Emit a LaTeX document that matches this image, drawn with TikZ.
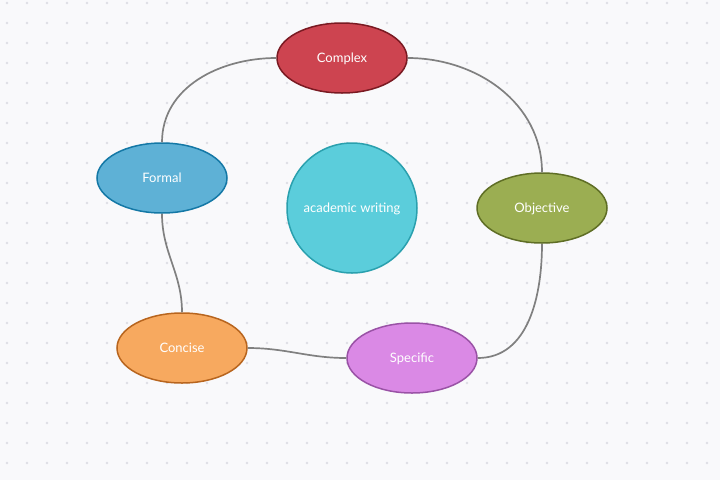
\documentclass[tikz,border=0pt]{standalone}
\usepackage{fontspec}
\setmainfont{Lato}
\usepackage{tikz}
\usetikzlibrary{shapes.geometric}

\definecolor{bgpaper}{HTML}{F9F9FB}
\definecolor{bgdot}{HTML}{DEDEE4}
\definecolor{linkgray}{HTML}{808080}
\definecolor{cxfill}{HTML}{CD4450}\definecolor{cxline}{HTML}{7A1A22}
\definecolor{fmfill}{HTML}{5EB1D6}\definecolor{fmline}{HTML}{1478A6}
\definecolor{awfill}{HTML}{5BCDDB}\definecolor{awline}{HTML}{2AA0AE}
\definecolor{obfill}{HTML}{9BAE52}\definecolor{obline}{HTML}{5F6E25}
\definecolor{ccfill}{HTML}{F7A95F}\definecolor{ccline}{HTML}{B8651E}
\definecolor{spfill}{HTML}{DA89E5}\definecolor{spline}{HTML}{9A52A6}

\begin{document}
\begin{tikzpicture}
  [
   x=1pt,y=-1pt,
   en/.style={ellipse,line width=1.5pt,inner sep=0pt,minimum width=130pt,minimum height=70pt,
              text=white,text height=9pt,text depth=0pt,font=\fontsize{13}{15}\selectfont},
   cn/.style={circle,line width=1.5pt,inner sep=0pt,minimum size=130pt,
              text=white,text height=9pt,text depth=0pt,font=\fontsize{13}{15}\selectfont},
   link/.style={linkgray,line width=1.7pt}
  ]
   % paper and dot grid
   \fill[bgpaper] (0,0) rectangle (720,480);
   \useasboundingbox (0,0) rectangle (720,480);
   \foreach \i in {0,...,35}
     \foreach \j in {0,...,23}
       \fill[bgdot] (7+20*\i,3+20*\j) circle (1.3pt);

   \node[cn,fill=awfill,draw=awline] (aw) at (352,208) {academic writing};
   \node[en,fill=cxfill,draw=cxline] (cx) at (342,58)  {Complex};
   \node[en,fill=fmfill,draw=fmline] (fm) at (162,178) {Formal};
   \node[en,fill=obfill,draw=obline] (ob) at (542,208) {Objective};
   \node[en,fill=ccfill,draw=ccline] (cc) at (182,348) {Concise};
   \node[en,fill=spfill,draw=spline] (sp) at (412,358) {Specific};

   \draw[link] (fm.north) to[out=90,in=180] (cx.west);
   \draw[link] (cx.east) to[out=0,in=90] (ob.north);
   \draw[link] (ob.south) to[out=-90,in=0] (sp.east);
   \draw[link] (sp.west) to[out=180,in=0] (cc.east);
   \draw[link] (cc.north) to[out=90,in=-90] (fm.south);

\end{tikzpicture}
\end{document}
